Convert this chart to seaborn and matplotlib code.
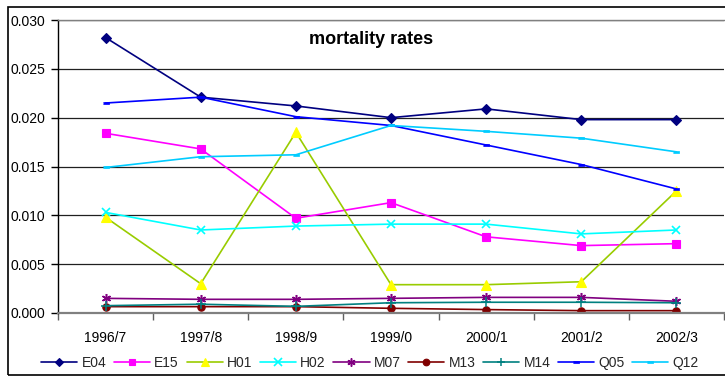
import matplotlib
matplotlib.use("Agg")
import matplotlib.pyplot as plt
import matplotlib.ticker as mticker
from matplotlib.patches import Rectangle
import numpy as np
import seaborn as sns

# Financial years
years = ["1996/7", "1997/8", "1998/9", "1999/0", "2000/1", "2001/2", "2002/3"]

# Mortality rates by code
E04 = [0.0282, 0.0221, 0.0212, 0.0200, 0.0209, 0.0198, 0.0198]
E15 = [0.0184, 0.0168, 0.0097, 0.0113, 0.0078, 0.0069, 0.0071]
H01 = [0.0098, 0.0030, 0.0185, 0.0029, 0.0029, 0.0032, 0.0125]
H02 = [0.0103, 0.0085, 0.0089, 0.0091, 0.0091, 0.0081, 0.0085]
M07 = [0.0015, 0.0014, 0.0014, 0.0015, 0.0016, 0.0016, 0.0012]
M13 = [0.00065, 0.00065, 0.00065, 0.00048, 0.00035, 0.00024, 0.00024]
M14 = [0.00075, 0.0009, 0.00068, 0.00105, 0.0011, 0.0011, 0.00105]
Q05 = [0.0215, 0.0221, 0.0201, 0.0192, 0.0172, 0.0152, 0.0127]
Q12 = [0.0149, 0.0160, 0.0162, 0.0192, 0.0186, 0.0179, 0.0165]

series_names = ["E04", "E15", "H01", "H02", "M07", "M13", "M14", "Q05", "Q12"]
series_values = [E04, E15, H01, H02, M07, M13, M14, Q05, Q12]

sns.set_theme(style="white")
plt.rcParams["font.family"] = ["Liberation Sans", "DejaVu Sans"]

dash = [(-1, -0.45), (1, -0.45), (1, 0.45), (-1, 0.45)]
asterisk = (6, 2, 0)

styles = {
    "E04": dict(color="#000080", marker="D", ms=5, mfc="#000080", mec="#000080", mew=0.8),
    "E15": dict(color="#FF00FF", marker="s", ms=5.3, mfc="#FF00FF", mec="#FF00FF", mew=0.8),
    "H01": dict(color="#99CC00", marker="^", ms=7, mfc="#FFFF00", mec="#FFFF00", mew=0.8),
    "H02": dict(color="#00FFFF", marker="x", ms=6, mfc="#00FFFF", mec="#00FFFF", mew=1.2),
    "M07": dict(color="#800080", marker=asterisk, ms=6.5, mfc="#800080", mec="#800080", mew=1.1),
    "M13": dict(color="#800000", marker="o", ms=5.3, mfc="#800000", mec="#800000", mew=0.8),
    "M14": dict(color="#008080", marker="+", ms=6.5, mfc="#008080", mec="#008080", mew=1.1),
    "Q05": dict(color="#0000FF", marker=dash, ms=4.5, mfc="#0000FF", mec="#0000FF", mew=0.5),
    "Q12": dict(color="#00CCFF", marker=dash, ms=4.5, mfc="#00CCFF", mec="#00CCFF", mew=0.5),
}

W, H = 725, 378
fig = plt.figure(figsize=(W / 100, H / 100), dpi=100)
ax = fig.add_axes([58 / W, 1 - 313 / H, (724 - 58) / W, (313 - 20) / H])

for name, vals in zip(series_names, series_values):
    st = styles[name]
    sns.lineplot(x=years, y=vals, ax=ax, label=name, sort=False,
                 color=st["color"], linewidth=1.2,
                 marker=st["marker"], markersize=st["ms"],
                 markerfacecolor=st["mfc"], markeredgecolor=st["mec"],
                 markeredgewidth=st["mew"])

handles, labels = ax.get_legend_handles_labels()
if ax.get_legend() is not None:
    ax.get_legend().remove()

ax.set_xlim(-0.5, 6.5)
ax.set_ylim(0, 0.030)
ax.set_xlabel("")
ax.set_ylabel("")

ax.set_xticks(range(len(years)))
ax.set_xticklabels(years)
ax.set_xticks(np.arange(-0.5, 7, 1), minor=True)
ax.tick_params(axis="x", which="major", length=0, pad=13, labelsize=10, labelcolor="black")
ax.tick_params(axis="x", which="minor", length=5, width=1, color="#606060", direction="out", bottom=True)

ax.set_yticks(np.arange(0, 0.0301, 0.005))
ax.yaxis.set_major_formatter(mticker.FormatStrFormatter("%.3f"))
ax.tick_params(axis="y", which="major", length=5, width=1, color="black", direction="out",
               left=True, pad=4, labelsize=10, labelcolor="black")

ax.yaxis.grid(True, color="#202020", linewidth=0.9)
ax.xaxis.grid(False)
ax.set_axisbelow(True)

ax.spines["left"].set_color("black")
ax.spines["left"].set_linewidth(1.0)
ax.spines["bottom"].set_color("#808080")
ax.spines["bottom"].set_linewidth(1.6)
ax.spines["top"].set_color("#808080")
ax.spines["top"].set_linewidth(1.0)
ax.spines["right"].set_visible(False)

fig.text(371 / W, 1 - 39 / H, "mortality rates", ha="center", va="center",
         fontsize=13, fontweight="bold", color="black")

fig.legend(handles, labels, loc="center", bbox_to_anchor=(370 / W, 1 - 363 / H),
           ncol=9, frameon=False, fontsize=10, handlelength=2.6,
           handletextpad=0.3, columnspacing=0.55, borderaxespad=0,
           markerscale=0.9)

fig.add_artist(Rectangle((8 / W, 1 - 375 / H), (760 - 8) / W, (375 - 7) / H,
                         transform=fig.transFigure, fill=False,
                         edgecolor="black", linewidth=1.2))

fig.savefig("out.png", dpi=100, facecolor="white")
